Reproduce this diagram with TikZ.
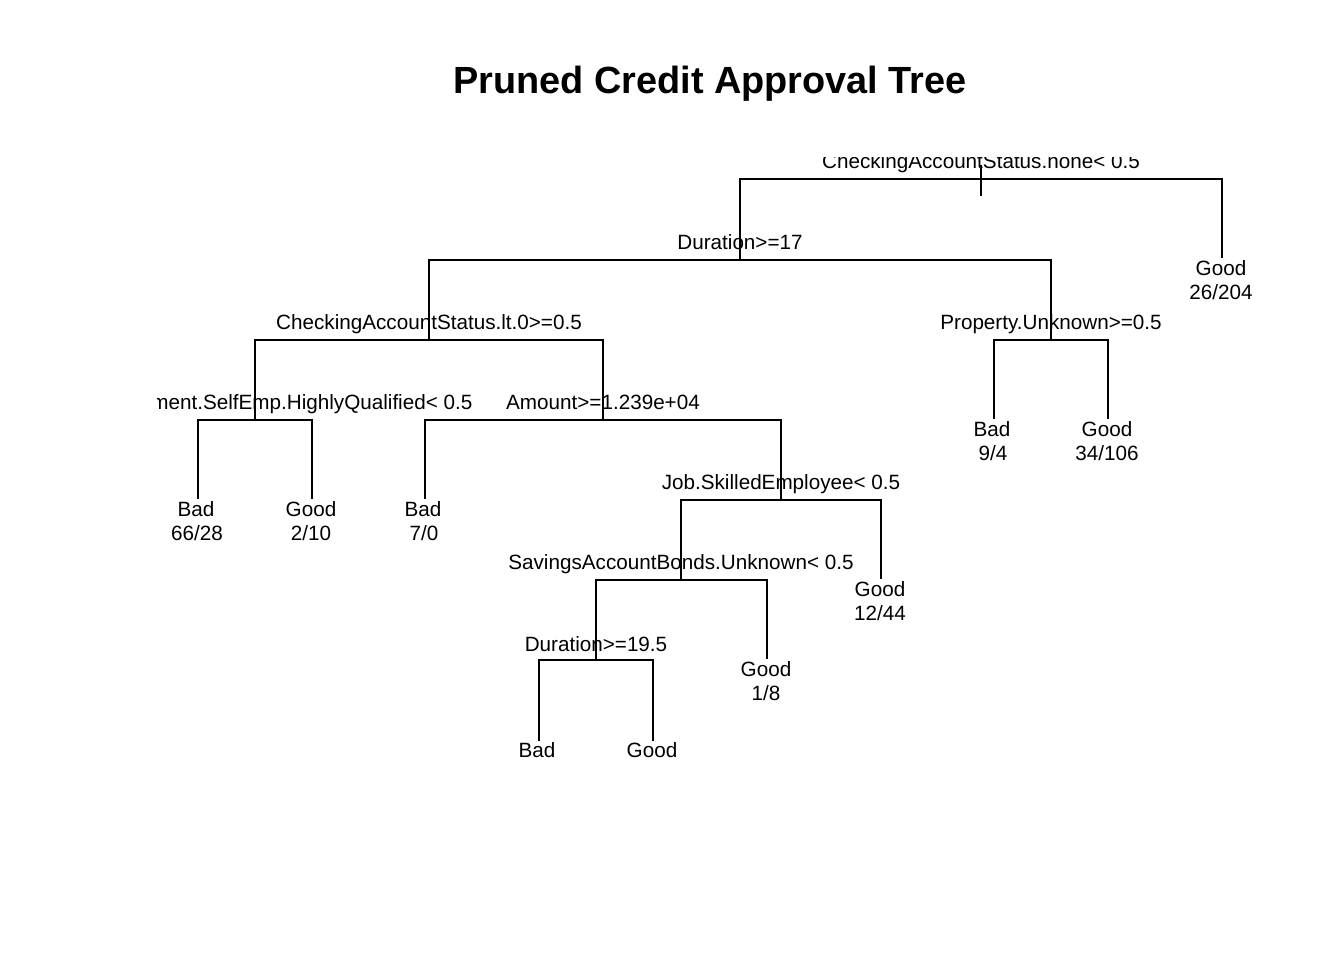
\documentclass[tikz,border=0pt]{standalone}
\usepackage{fontspec}
\setmainfont{Liberation Sans}
\begin{document}
\begin{tikzpicture}[x=0.75pt,y=-0.75pt,
  edge/.style={line width=1.5pt,line cap=rect},
  lab/.style={anchor=base,inner sep=0pt,font=\fontsize{15.5}{18}\selectfont},
  ttl/.style={anchor=base,inner sep=0pt,font=\fontsize{28.4}{32}\selectfont\bfseries}]
\useasboundingbox (0,0) rectangle (1344,960);
\node[ttl] (title) at (710,93) {Pruned Credit Approval Tree};
% junction coordinates
\coordinate (r) at (981,179);
\coordinate (rtop) at (981,166);
\coordinate (rbot) at (981,195);
\coordinate (rl) at (740,179);
\coordinate (rr) at (1222,179);
\coordinate (rrEnd) at (1222,257);
\coordinate (n2) at (740,260);
\coordinate (n2l) at (429,260);
\coordinate (n2r) at (1051,260);
\coordinate (n4) at (429,340);
\coordinate (n4l) at (255,340);
\coordinate (n4r) at (603,340);
\coordinate (n5) at (1051,340);
\coordinate (n5l) at (994,340);
\coordinate (n5r) at (1108,340);
\coordinate (n5lEnd) at (994,418);
\coordinate (n5rEnd) at (1108,418);
\coordinate (n8) at (255,420);
\coordinate (n8l) at (198,420);
\coordinate (n8r) at (312,420);
\coordinate (n8lEnd) at (198,498);
\coordinate (n8rEnd) at (312,498);
\coordinate (n9) at (603,420);
\coordinate (n9l) at (425,420);
\coordinate (n9r) at (781,420);
\coordinate (n9lEnd) at (425,498);
\coordinate (n19) at (781,500);
\coordinate (n19l) at (681,500);
\coordinate (n19r) at (881,500);
\coordinate (n19rEnd) at (881,578);
\coordinate (n38) at (681,580);
\coordinate (n38l) at (596,580);
\coordinate (n38r) at (767,580);
\coordinate (n38rEnd) at (767,658);
\coordinate (n76) at (596,660);
\coordinate (n76l) at (539,660);
\coordinate (n76r) at (653,660);
\coordinate (n76lEnd) at (539,740);
\coordinate (n76rEnd) at (653,740);
% edges
\draw[edge] (rtop) -- (rbot);
\draw[edge] (n2) -- (rl) -- (rr) -- (rrEnd);
\draw[edge] (n4) -- (n2l) -- (n2r) -- (n5);
\draw[edge] (n8) -- (n4l) -- (n4r) -- (n9);
\draw[edge] (n5lEnd) -- (n5l) -- (n5r) -- (n5rEnd);
\draw[edge] (n8lEnd) -- (n8l) -- (n8r) -- (n8rEnd);
\draw[edge] (n9lEnd) -- (n9l) -- (n9r) -- (n19);
\draw[edge] (n38) -- (n19l) -- (n19r) -- (n19rEnd);
\draw[edge] (n76) -- (n38l) -- (n38r) -- (n38rEnd);
\draw[edge] (n76lEnd) -- (n76l) -- (n76r) -- (n76rEnd);
% split labels (clipped to plot region)
\begin{scope}
\clip (157,157) rectangle (1320,800);
\node[lab] (s1) at (981,168) {CheckingAccountStatus.none< 0.5};
\node[lab] (s2) at (740,249) {Duration>=17};
\node[lab] (s4) at (429,329) {CheckingAccountStatus.lt.0>=0.5};
\node[lab] (s5) at (1051,329) {Property.Unknown>=0.5};
\node[lab] (s8) at (255,409) {Job.Management.SelfEmp.HighlyQualified< 0.5};
\node[lab] (s9) at (603,409) {Amount>=1.239e+04};
\node[lab] (s19) at (781,489) {Job.SkilledEmployee< 0.5};
\node[lab] (s38) at (681,569) {SavingsAccountBonds.Unknown< 0.5};
\node[lab] (s76) at (596,651) {Duration>=19.5};
\end{scope}
% leaves
\node[lab] (l3) at (1221,275) {Good};
\node[lab] (l3c) at (1221,299) {26/204};
\node[lab] (l10) at (992,436) {Bad};
\node[lab] (l10c) at (993,460) {9/4};
\node[lab] (l11) at (1107,436) {Good};
\node[lab] (l11c) at (1107,460) {34/106};
\node[lab] (l16) at (196,516) {Bad};
\node[lab] (l16c) at (197,540) {66/28};
\node[lab] (l17) at (311,516) {Good};
\node[lab] (l17c) at (311,540) {2/10};
\node[lab] (l18) at (423,516) {Bad};
\node[lab] (l18c) at (424,540) {7/0};
\node[lab] (l39) at (880,596) {Good};
\node[lab] (l39c) at (880,620) {12/44};
\node[lab] (l77) at (766,676) {Good};
\node[lab] (l77c) at (766,700) {1/8};
\node[lab] (l152) at (537,757) {Bad};
\node[lab] (l153) at (652,757) {Good};
\end{tikzpicture}
\end{document}
